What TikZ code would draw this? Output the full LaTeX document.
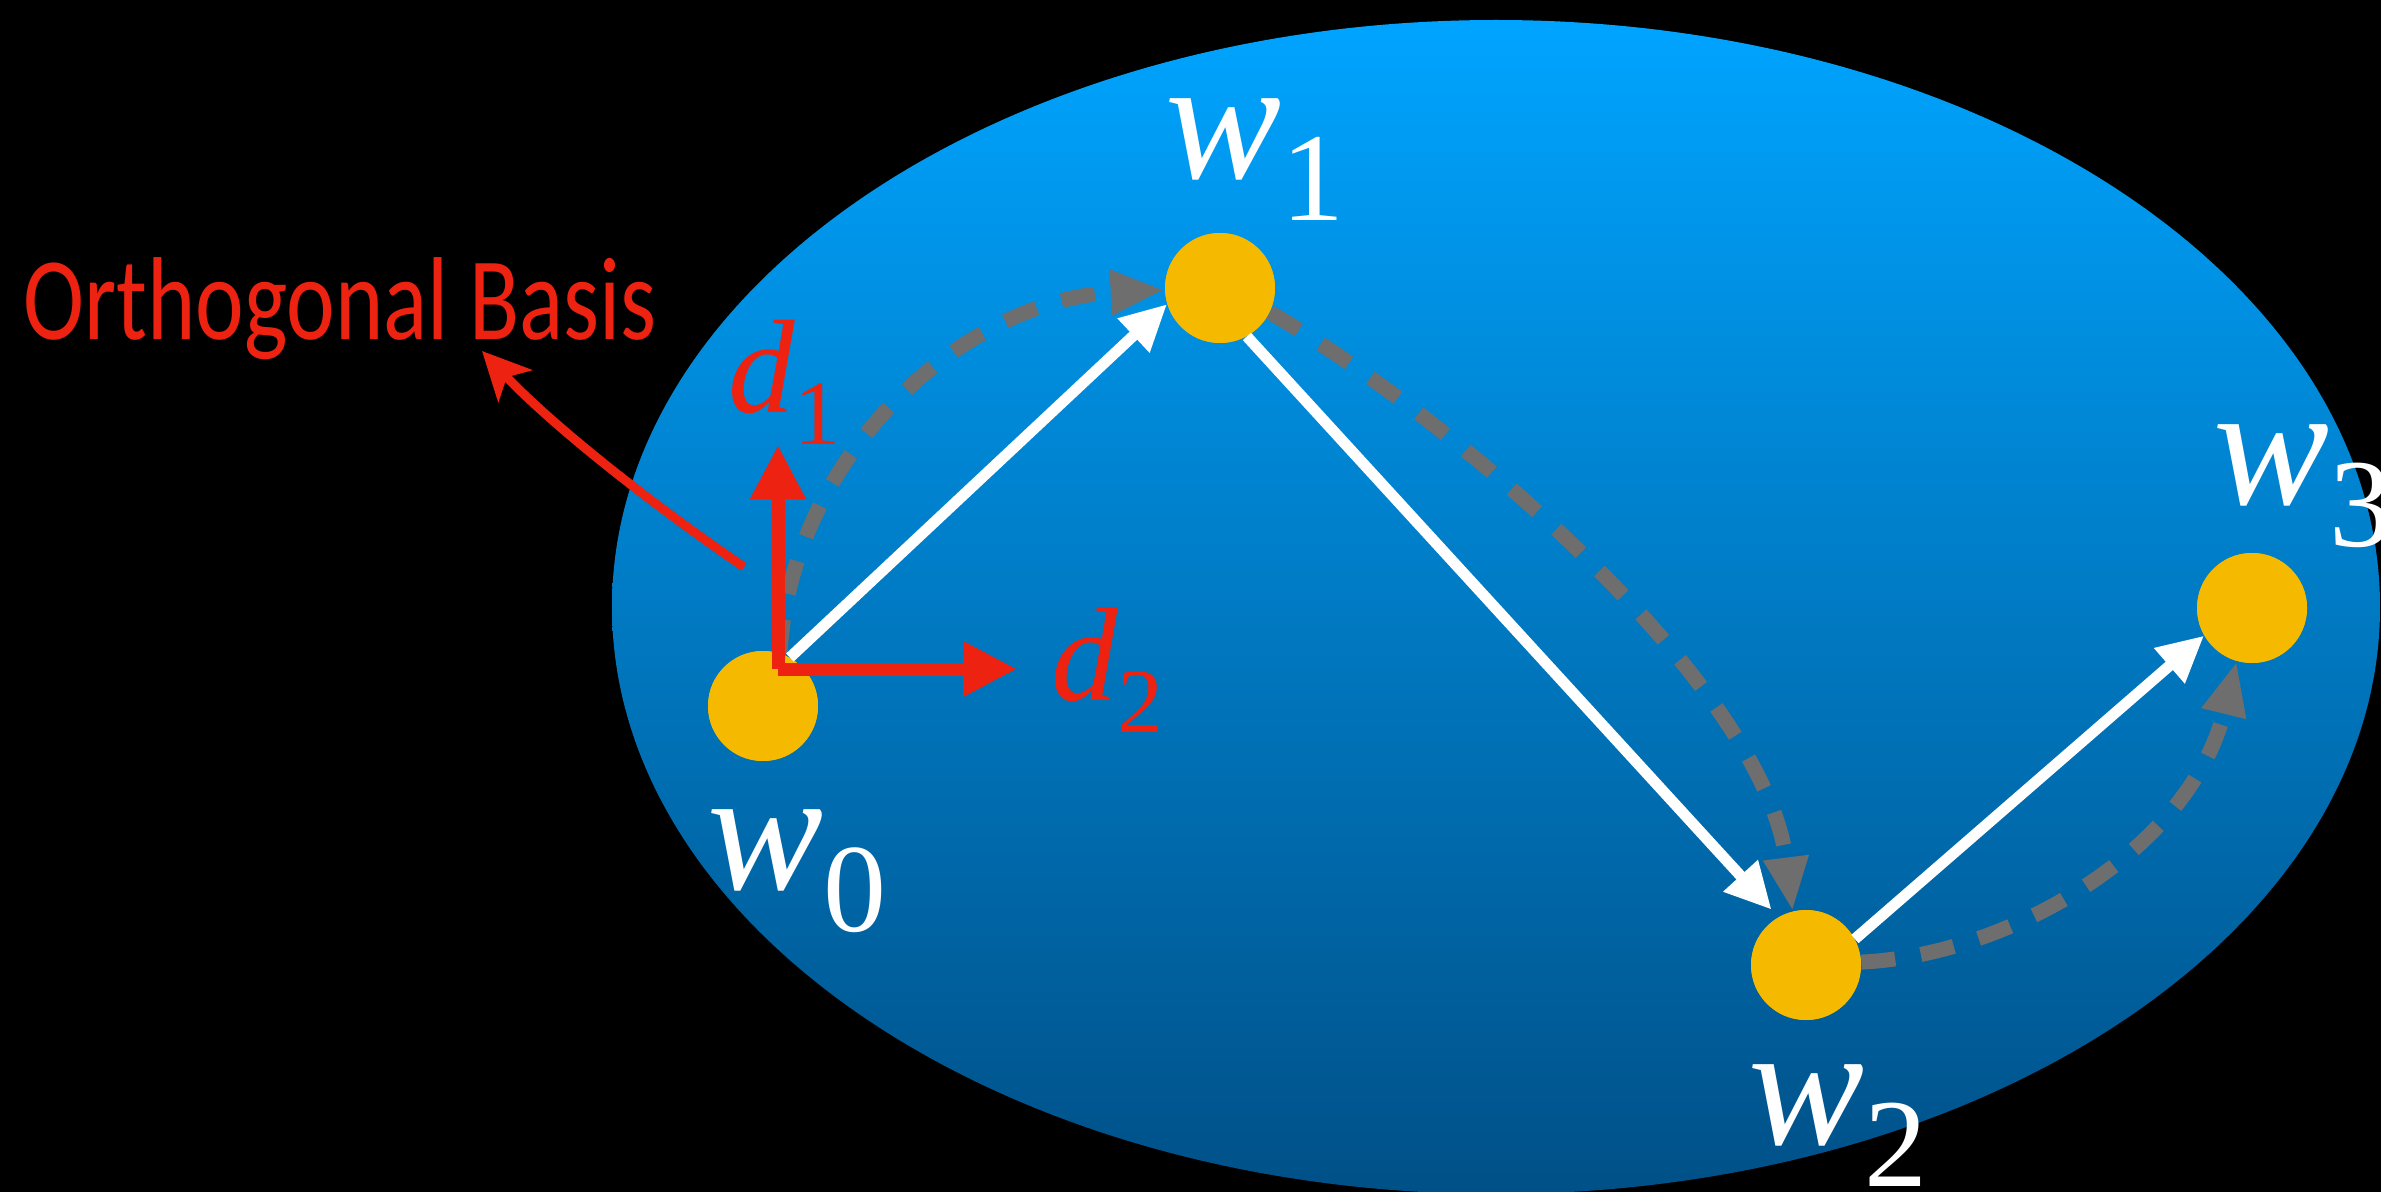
\documentclass[tikz,border=0pt]{standalone}
\usepackage{fontspec}
\setmainfont{Liberation Serif}
\newfontfamily\calibfont{Carlito}
\usetikzlibrary{arrows.meta}
\definecolor{myred}{RGB}{237,34,16}
\definecolor{gold}{RGB}{245,185,0}
\definecolor{dgray}{RGB}{110,110,110}
\definecolor{topblue}{RGB}{0,164,255}
\definecolor{botblue}{RGB}{0,80,135}
\newcommand\wsub[2]{{\itshape #1}\raisebox{-21pt}{\fontsize{63}{63}\selectfont #2}}
\newcommand\dsub[2]{{\itshape #1}\raisebox{-16pt}{\fontsize{46}{46}\selectfont #2}}
\begin{document}
\begin{tikzpicture}[x=0.5pt,y=-0.5pt,
  ptnode/.style={circle,fill=gold,minimum size=55pt,inner sep=0pt},
  wlab/.style={anchor=base west,inner sep=0pt,text=white,font=\fontsize{87}{87}\selectfont},
  dlab/.style={anchor=base west,inner sep=0pt,text=myred,font=\fontsize{66.5}{66.5}\selectfont},
  solidarrow/.style={draw=white,line width=5.5pt,-{Triangle[length=23pt,width=22pt]}},
  dasharrow/.style={draw=dgray,line width=7.5pt,dash pattern=on 17pt off 13pt,-{Triangle[length=27pt,width=21pt]}},
  basisarrow/.style={draw=myred,line width=6.5pt,-{Triangle[length=27pt,width=26pt]}},
  callout/.style={draw=myred,line width=4.5pt,-{Stealth[length=24pt,width=23pt,inset=6pt]}}
]
\fill[black] (0,0) rectangle (2381,1192);
\useasboundingbox (0,0) rectangle (2381,1192);
\shade[top color=topblue,bottom color=botblue] (1496,607) ellipse [x radius=442pt,y radius=293.5pt];

\node[ptnode] (w0) at (763,706) {};
\node[ptnode] (w1) at (1220,288) {};
\node[ptnode] (w2) at (1806,965) {};
\node[ptnode] (w3) at (2252,608) {};

% dashed curved arrows
\draw[dasharrow] (w0.72) .. controls (790,460) and (960,300) .. (w1.182);
\draw[dasharrow] (w1.-26) .. controls (1470,430) and (1765,690) .. (w2.104);
\draw[dasharrow] (w2.3) .. controls (2010,955) and (2190,850) .. (w3.-106);

% redraw circles over dashed lines
\node[ptnode] at (w0) {};
\node[ptnode] at (w1) {};
\node[ptnode] at (w2) {};
\node[ptnode] at (w3) {};

% white solid arrows
\draw[solidarrow] (w0.61) -- (w1.197);
\draw[solidarrow,shorten >=5pt] (w1.299) -- (w2.120);
\draw[solidarrow] (w2.28) -- (w3.210);

% orthogonal basis
\coordinate (o) at (778,669);
\coordinate (d1tip) at (778,445);
\coordinate (d2tip) at (1017,669);
\draw[basisarrow] (o) -- (d1tip);
\draw[basisarrow] (o) -- (d2tip);

% labels
\node[wlab] (l0) at (707,889) {\wsub{w}{0}};
\node[wlab] (l1) at (1165,179) {\wsub{w}{1}};
\node[wlab] (l2) at (1748,1144) {\wsub{w}{2}};
\node[wlab] (l3) at (2213,504) {\wsub{w}{3}};
\node[dlab] (ld1) at (728,413) {\dsub{d}{1}};
\node[dlab] (ld2) at (1051,700) {\dsub{d}{2}};

\node[anchor=base west,inner sep=0pt,text=myred,font=\calibfont\fontsize{59}{59}\selectfont] (ob) at (23,340) {\scalebox{0.78}[1]{Orthogonal Basis}};
\coordinate (cs) at (744,567);
\coordinate (ce) at (482,351);
\draw[callout] (cs) .. controls (650,503) and (552,425) .. (ce);
\end{tikzpicture}
\end{document}
